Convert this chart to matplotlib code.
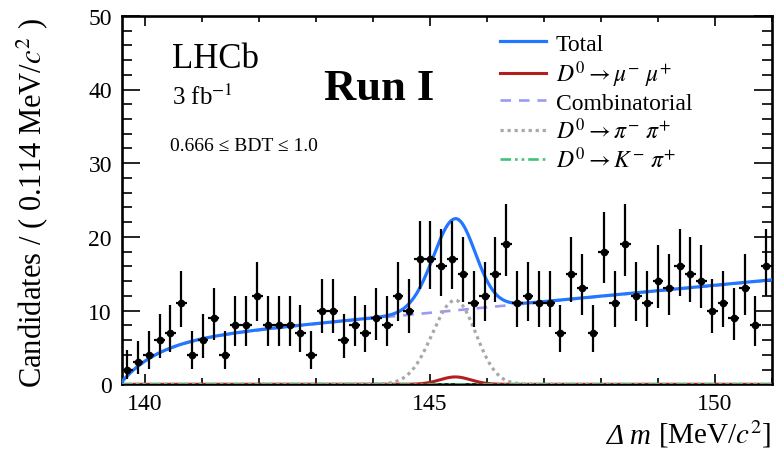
import numpy as np
import matplotlib
matplotlib.use('Agg')
import matplotlib.pyplot as plt
from matplotlib.ticker import MultipleLocator

plt.rcParams['font.family'] = ['Liberation Serif', 'DejaVu Serif']
plt.rcParams['mathtext.fontset'] = 'stix'

# histogram binning (delta m, MeV/c^2)
x_lo, x_hi = 139.6, 151.0
n_bins = 60

# candidates per bin
counts = [2, 3, 4, 6, 7, 11, 4, 6, 9, 4,
          8, 8, 12, 8, 8, 8, 7, 4, 10, 10,
          6, 8, 7, 9, 8, 12, 10, 17, 17, 16,
          17, 15, 11, 12, 15, 19, 11, 12, 11, 11,
          7, 15, 13, 7, 18, 11, 19, 12, 11, 14,
          13, 16, 15, 14, 10, 11, 9, 13, 8, 16]

# fit components (parameters estimated from the drawn curves)
peak_mass = 145.45
pipi_height = 11.4
pipi_sigma_lo = 0.40
pipi_sigma_hi = 0.36
mumu_height = 1.0
mumu_sigma = 0.27
comb_level = 9.7      # linear part at 145 MeV
comb_slope = 0.74
comb_thresh = 0.6
m_pi = 139.57
kpi_level = 0.04

legend_labels = ['Total',
                 r'$D^0 \rightarrow \mu^{-}\ \mu^{+}$',
                 'Combinatorial',
                 r'$D^0 \rightarrow \pi^{-}\ \pi^{+}$',
                 r'$D^0 \rightarrow K^{-}\ \pi^{+}$']


def poisson_errors(n):
    n = np.asarray(n, dtype=float)
    up = np.sqrt(n + 0.75) + 1.0
    m = np.maximum(n, 1)
    lo = np.where(n > 0, n - n * (1 - 1 / (9 * m) - 1 / (3 * np.sqrt(m))) ** 3, 0)
    return lo, up


def comb_shape(x):
    d = np.clip(x - m_pi, 0, None)
    return (comb_level + comb_slope * (x - 145.0)) * (1 - np.exp(-d / comb_thresh))


def pipi_shape(x):
    s = np.where(x < peak_mass, pipi_sigma_lo, pipi_sigma_hi)
    return pipi_height * np.exp(-0.5 * ((x - peak_mass) / s) ** 2)


def mumu_shape(x):
    return mumu_height * np.exp(-0.5 * ((x - peak_mass) / mumu_sigma) ** 2)


edges = np.linspace(x_lo, x_hi, n_bins + 1)
centers = 0.5 * (edges[1:] + edges[:-1])
half_w = 0.5 * (edges[1] - edges[0])
err_lo, err_up = poisson_errors(counts)

xx = np.linspace(x_lo, x_hi, 800)
comb = comb_shape(xx)
pipi = pipi_shape(xx)
mumu = mumu_shape(xx)
kpi = np.full_like(xx, kpi_level)
total = comb + pipi + mumu + kpi

fig = plt.figure(figsize=(7.76, 4.56), dpi=100)
ax = fig.add_axes([121.7 / 776, 1 - 385.3 / 456, 650 / 776, 368.5 / 456])

l_tot, = ax.plot(xx, total, color='#2276ff', lw=2.3, zorder=4)
l_mumu, = ax.plot(xx, mumu, color='#b41e1e', lw=2.2, zorder=3)
l_comb, = ax.plot(xx, comb, color='#9a9af5', lw=1.9, ls=(0, (4, 3)), zorder=3)
l_pipi, = ax.plot(xx, pipi, color='#a8a8a8', lw=2.3, ls=(0, (1, 1.2)), zorder=3)
l_kpi, = ax.plot(xx, kpi, color='#3ec47a', lw=1.9, ls=(0, (4, 1.5, 1, 1.5, 1, 1.5)), zorder=3)

ax.errorbar(centers, counts, xerr=half_w, yerr=[err_lo, err_up], fmt='o',
            color='black', ms=4.5, elinewidth=1.6, capsize=0, zorder=5)

ax.set_xlim(x_lo, x_hi)
ax.set_ylim(0, 50)
ax.set_xticks([140, 145, 150])
ax.xaxis.set_minor_locator(MultipleLocator(1))
ax.yaxis.set_major_locator(MultipleLocator(10))
ax.yaxis.set_minor_locator(MultipleLocator(2))
ax.tick_params(which='both', direction='in', top=True, right=True, labelsize=17, width=1.2)
ax.tick_params(axis='x', which='major', length=7, pad=6)
ax.tick_params(axis='x', which='minor', length=4)
ax.tick_params(axis='y', which='major', length=13, pad=7)
ax.tick_params(axis='y', which='minor', length=7)
for sp in ax.spines.values():
    sp.set_linewidth(1.9)

fig.text(32 / 776, 1 - 203 / 456, r'Candidates / ( 0.114 MeV/$c^2$ )',
         rotation=90, ha='center', va='center', fontsize=22)

# x label: italic "Δ m" followed by the upright unit, sharing one baseline
xlab_y = 1 - 444 / 456
unit_txt = fig.text(771 / 776, xlab_y, r'[MeV/$c^2$]', ha='right', va='baseline', fontsize=21)
fig.canvas.draw()
unit_box = unit_txt.get_window_extent()
fig.text((unit_box.x0 - 6) / 776, xlab_y, '\u0394 m', ha='right', va='baseline',
         fontsize=21, fontstyle='italic')

ax.text(140.48, 44.2, 'LHCb', fontsize=25, va='center', ha='left')
ax.text(140.48, 39.1, r'3 fb$^{-1}$', fontsize=18, va='center', ha='left')
ax.text(140.45, 32.4, '0.666 \u2264 BDT \u2264 1.0', fontsize=14, va='center', ha='left')
ax.text(144.12, 40.2, 'Run I', fontsize=32, fontweight='bold', va='center', ha='center')

ax.legend([l_tot, l_mumu, l_comb, l_pipi, l_kpi], legend_labels,
          loc='upper left', bbox_to_anchor=(500 / 776, 1 - 34 / 456),
          bbox_transform=fig.transFigure, frameon=False, fontsize=17,
          handlelength=1.95, handletextpad=0.42, labelspacing=0.15,
          borderaxespad=0, borderpad=0)

fig.savefig('out.png', dpi=100)
